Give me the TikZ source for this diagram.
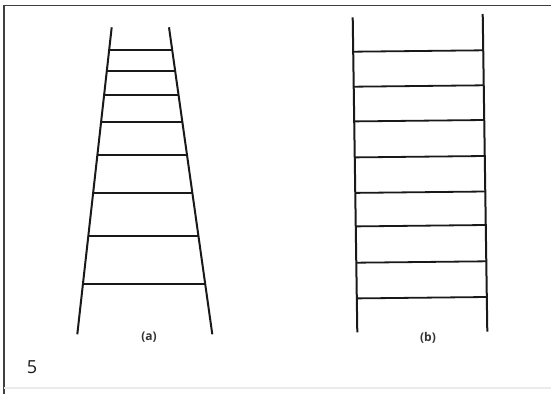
\documentclass[tikz,border=0pt]{standalone}
\usepackage{fontspec}
\setmainfont{Open Sans}
\usetikzlibrary{calc}
\begin{document}
\begin{tikzpicture}[x=1pt,y=-1pt,
  frameline/.style={draw=black!75,line width=1.5pt},
  rail/.style={draw=black!90,line width=2pt},
  rung/.style={draw=black!90,line width=1.8pt},
  lbl/.style={font=\fontsize{12}{13}\selectfont\bfseries,text=black!80,inner sep=0pt},
  numlbl/.style={font=\fontsize{18}{20}\selectfont,text=black!90,inner sep=0pt}]
\useasboundingbox (0,0) rectangle (551,394);
% frame
\coordinate (fTL) at (4,5.3);
\coordinate (fTR) at (551,5.3);
\coordinate (fBL) at (4,394);
\draw[frameline] (fTR) -- (fTL) -- (fBL);
\draw[draw=black!8,line width=1.2pt] (4,388) -- (551,388);
% ladder (a)
\coordinate (aLT) at (111.7,27.3);
\coordinate (aLB) at (77.3,334.3);
\coordinate (aRT) at (169,27.3);
\coordinate (aRB) at (212.3,334.3);
\draw[rail] (aLT) -- (aLB);
\draw[rail] (aRT) -- (aRB);
\foreach \yy in {49.7,71,94.7,121.7,154.7,193.3,236,284.3}{
  \pgfmathsetmacro{\tt}{(\yy-27.3)/307}
  \draw[rung] ($(aLT)!\tt!(aLB)$) -- ($(aRT)!\tt!(aRB)$);
}
% ladder (b)
\coordinate (bLT) at (352.7,17.3);
\coordinate (bLB) at (357.3,332.3);
\coordinate (bRT) at (482.7,14);
\coordinate (bRB) at (487.3,331.7);
\draw[rail] (bLT) -- (bLB);
\draw[rail] (bRT) -- (bRB);
\foreach \yy in {51,86,120.7,156.7,192.2,225.7,262,297.7}{
  \pgfmathsetmacro{\tl}{(\yy+0.7-17.3)/315}
  \pgfmathsetmacro{\tr}{(\yy-0.7-14)/317.7}
  \draw[rung] ($(bLT)!\tl!(bLB)$) -- ($(bRT)!\tr!(bRB)$);
}
% labels
\node[lbl] (la) at (149,337) {(a)};
\node[lbl] (lb) at (428,338) {(b)};
\node[numlbl] (n5) at (32,367) {5};
\end{tikzpicture}
\end{document}
